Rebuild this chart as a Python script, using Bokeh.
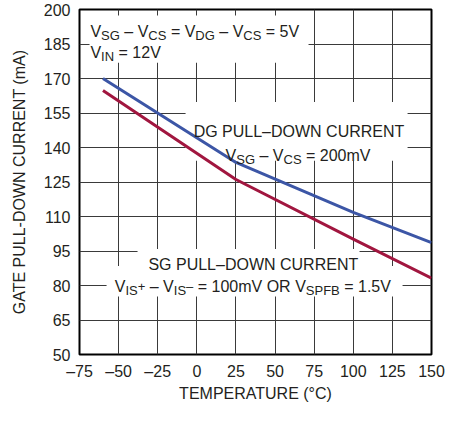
from bokeh.plotting import figure
from bokeh.models import Label, BoxAnnotation, FixedTicker, Range1d
from bokeh.embed import file_html
from bokeh.resources import INLINE

# ---- data ----
x_ticks = [-75, -50, -25, 0, 25, 50, 75, 100, 125, 150]
y_ticks = [50, 65, 80, 95, 110, 125, 140, 155, 170, 185, 200]
temperature = [-60, 25, 100, 150]
dg_current = [170.0, 133.5, 111.8, 98.6]
sg_current = [164.8, 126.1, 100.2, 83.2]
x_title = "TEMPERATURE (°C)"
y_title = "GATE PULL-DOWN CURRENT (mA)"

FONT = "Liberation Sans"
TEXT = "#231f20"
BLUE = "#3c56a6"
RED = "#a1163f"
M = 16   # main text size (px)
S = 13   # subscript size (px)
SUB = -4 # subscript baseline shift (px)

# Liberation Sans (Arial-compatible) advance widths, 1/1000 em
W = {' ': 278, '–': 556, '=': 584, '+': 584, '-': 333, '.': 278, '(': 333, ')': 333,
     '°': 400, 'm': 833, 'V': 667, 'A': 667, 'B': 667, 'C': 722, 'D': 722, 'E': 667,
     'F': 611, 'G': 778, 'I': 278, 'L': 556, 'M': 833, 'N': 722, 'O': 778, 'P': 667,
     'R': 722, 'S': 667, 'T': 611, 'U': 722, 'W': 944}
for d in "0123456789":
    W[d] = 556


def tw(t, size):
    return sum(W.get(c, 556) for c in t) / 1000.0 * size


p = figure(width=453, height=405, x_range=Range1d(-75, 150), y_range=Range1d(50, 200),
           output_backend="svg", toolbar_location=None,
           min_border_left=79, min_border_right=22, min_border_top=9, min_border_bottom=51)
p.background_fill_color = "white"
p.border_fill_color = "white"
p.outline_line_color = "black"
p.outline_line_width = 2

p.xaxis.ticker = FixedTicker(ticks=x_ticks)
p.yaxis.ticker = FixedTicker(ticks=y_ticks)
p.xaxis.major_label_overrides = {t: (("–" + str(-t)) if t < 0 else str(t)) for t in x_ticks}
for ax in (p.xaxis[0], p.yaxis[0]):
    ax.axis_line_color = None
    ax.major_tick_line_color = None
    ax.minor_tick_line_color = None
    ax.major_tick_out = 0
    ax.major_tick_in = 0
    ax.major_label_text_font = FONT
    ax.major_label_text_font_size = f"{M}px"
    ax.major_label_text_color = TEXT
    ax.axis_label_text_font = FONT
    ax.axis_label_text_font_size = f"{M}px"
    ax.axis_label_text_font_style = "normal"
    ax.axis_label_text_color = TEXT
p.xaxis.axis_label = x_title
p.yaxis.axis_label = y_title
p.xaxis.major_label_standoff = 8
p.xaxis.axis_label_standoff = 2
p.yaxis.major_label_standoff = 9
p.yaxis.axis_label_standoff = 13

p.grid.grid_line_color = "#3a3a3a"
p.grid.grid_line_width = 1
p.grid.grid_line_alpha = 1

# white backgrounds behind the annotation texts (interrupt the grid)
for (l, r, t, b) in [(-68.6, 71.4, 197.4, 176.9),
                     (-7.2, 134.7, 159.8, 134.2),
                     (-37.9, 104.0, 95.9, 88.5),
                     (-57.7, 131.5, 88.5, 75.2)]:
    p.add_layout(BoxAnnotation(left=l, right=r, top=t, bottom=b, fill_color="white",
                               fill_alpha=1, line_color=None, level="underlay"))

p.line(temperature, dg_current, line_color=BLUE, line_width=3)
p.line(temperature, sg_current, line_color=RED, line_width=3)


def add_text_line(x, y, pieces, align="left"):
    total = sum(tw(t, s) for t, s, _ in pieces)
    off = -total / 2.0 if align == "center" else 0.0
    for t, s, dy in pieces:
        stripped = t.lstrip(" ")
        lead = tw(t[:len(t) - len(stripped)], s)
        body = stripped.rstrip(" ")
        p.add_layout(Label(x=x, y=y, x_offset=off + lead, y_offset=dy, text=body,
                           text_font=FONT, text_font_size=f"{s}px", text_color=TEXT,
                           text_align="left", text_baseline="alphabetic"))
        off += tw(t, s)


add_text_line(-68.0, 190.5, [("V", M, 0), ("SG", S, SUB), (" – ", M, 0), ("V", M, 0),
                              ("CS", S, SUB), (" = ", M, 0), ("V", M, 0), ("DG", S, SUB),
                              (" – ", M, 0), ("V", M, 0), ("CS", S, SUB), (" = 5V", M, 0)])
add_text_line(-68.0, 181.2, [("V", M, 0), ("IN", S, SUB), (" = 12V", M, 0)])

add_text_line(65.3, 147.0, [("DG PULL–DOWN CURRENT", M, 0)], "center")
add_text_line(64.7, 136.6, [("V", M, 0), ("SG", S, SUB), (" – ", M, 0), ("V", M, 0),
                             ("CS", S, SUB), (" = 200mV", M, 0)], "center")

add_text_line(36.1, 89.3, [("SG PULL–DOWN CURRENT", M, 0)], "center")
add_text_line(35.8, 79.4, [("V", M, 0), ("IS", S, SUB), ("+", S, 0), (" – ", M, 0),
                            ("V", M, 0), ("IS", S, SUB), ("–", S, 0),
                            (" = 100mV OR ", M, 0), ("V", M, 0), ("SPFB", S, SUB),
                            (" = 1.5V", M, 0)], "center")

open("out.html", "w").write(file_html(p, INLINE))
